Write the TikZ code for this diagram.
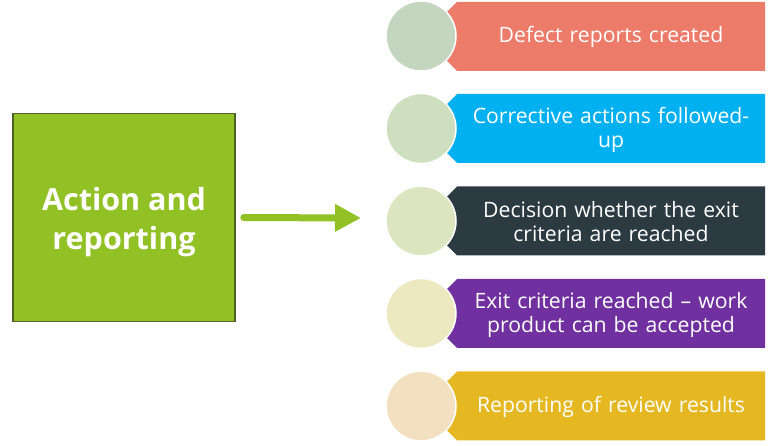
\documentclass[tikz,border=0pt]{standalone}
\usepackage{fontspec}
\setmainfont{Open Sans}
\usetikzlibrary{arrows.meta}

\definecolor{actgreen}{HTML}{92C126}
\definecolor{actborder}{HTML}{4F6228}
\definecolor{rowA}{HTML}{EC7B6A}
\definecolor{rowB}{HTML}{00B0F0}
\definecolor{rowC}{HTML}{2C3B42}
\definecolor{rowD}{HTML}{7030A0}
\definecolor{rowE}{HTML}{E5B822}
\definecolor{dotA}{HTML}{C4D5C0}
\definecolor{dotB}{HTML}{CEDFBF}
\definecolor{dotC}{HTML}{DCE5BF}
\definecolor{dotD}{HTML}{ECE8C0}
\definecolor{dotE}{HTML}{F2E0C0}

\tikzset{
  dot/.style={circle,draw=white,line width=1.5pt,minimum size=70pt,inner sep=0pt},
  rowtext/.style={text=white,font=\fontsize{21.2}{24}\selectfont,text width=300pt,align=center}
}

\begin{document}
\begin{tikzpicture}[x=1pt,y=-1pt]
\useasboundingbox (0,0) rectangle (772,446);
\node[draw=actborder,line width=1.5pt,fill=actgreen,minimum width=222pt,minimum height=208pt] (act) at (124,217.5) {};
\node[text=white,font=\fontsize{30.5}{38.5}\selectfont\bfseries,align=center] (acttext) at (124,222) {Action and\\reporting};
\coordinate (tip) at (361,218);
\draw[actgreen,line width=7pt,line cap=round,shorten <=8pt,-{Triangle[length=26pt,width=26pt]}] (act.east) -- (tip);
% banners
\fill[rowA] (423,36) -- (457,2) -- (765,2) -- (765,71) -- (457,71) -- cycle;
\fill[rowB] (423,128.5) -- (457,94) -- (765,94) -- (765,163) -- (457,163) -- cycle;
\fill[rowC] (423,221) -- (457,186.5) -- (765,186.5) -- (765,255.5) -- (457,255.5) -- cycle;
\fill[rowD] (423,313.5) -- (457,279) -- (765,279) -- (765,348) -- (457,348) -- cycle;
\fill[rowE] (423,406) -- (457,371.5) -- (765,371.5) -- (765,440.5) -- (457,440.5) -- cycle;
% circles
\node[dot,fill=dotA] (d1) at (421,36) {};
\node[dot,fill=dotB] (d2) at (421,128.5) {};
\node[dot,fill=dotC] (d3) at (421,221) {};
\node[dot,fill=dotD] (d4) at (421,313.5) {};
\node[dot,fill=dotE] (d5) at (421,406) {};
% texts
\node[rowtext] (t1) at (611,37) {Defect reports created};
\node[rowtext] (t2) at (611,129.5) {Corrective actions followed-\\up};
\node[rowtext] (t3) at (611,222) {Decision whether the exit\\criteria are reached};
\node[rowtext] (t4) at (611,314.5) {Exit criteria reached -- work\\product can be accepted};
\node[rowtext] (t5) at (611,407) {Reporting of review results};
\end{tikzpicture}
\end{document}
